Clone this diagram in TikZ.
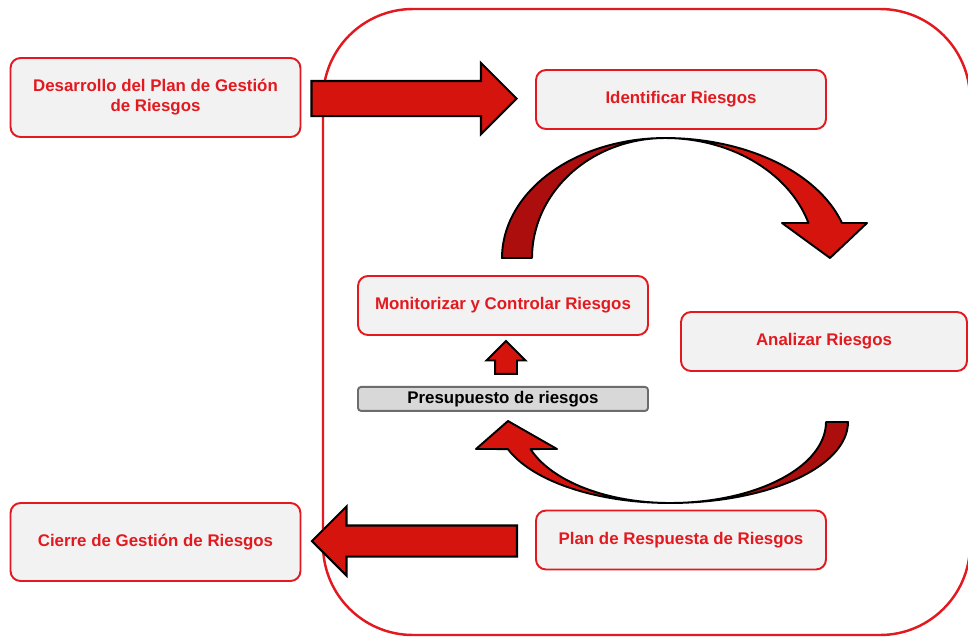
\documentclass[tikz,border=0pt]{standalone}
\usepackage{fontspec}
\setsansfont{Liberation Sans}
\usetikzlibrary{shapes.arrows, positioning, calc}
\definecolor{boxRed}{RGB}{226,26,32}
\definecolor{boxFill}{RGB}{242,242,242}
\definecolor{arrowRed}{RGB}{214,20,14}
\definecolor{arrowDark}{RGB}{172,14,14}
\definecolor{budgetFill}{RGB}{216,216,216}
\tikzset{
    font=\sffamily\bfseries\fontsize{9.6}{11.3}\selectfont,
    % Boxes
    riskbox/.style={rectangle, draw=boxRed, fill=boxFill, line width=1.1pt, rounded corners=0.2cm,
                    minimum width=5.8cm, minimum height=1.18cm, text=boxRed, align=center},
    budgetbox/.style={rectangle, draw=gray!85!black, fill=budgetFill, line width=1.1pt, rounded corners=0.06cm,
                      minimum width=5.8cm, minimum height=0.48cm, inner sep=0pt, text=black},
    frame/.style={draw=boxRed, line width=1.4pt, rounded corners=1.8cm},
    % Arrows
    bigarrow/.style={single arrow, draw=black, fill=arrowRed, line width=1.2pt, inner sep=0.33cm,
                     single arrow head extend=0.36cm, minimum height=4.1cm},
    smallarrow/.style={single arrow, draw=black, fill=arrowRed, line width=1.1pt, inner sep=0.2cm,
                       single arrow head extend=0.17cm, minimum height=0.56cm,
                       shape border rotate=90},
    lightpart/.style={fill=arrowRed, draw=black, line width=1.1pt, line join=round},
    darkpart/.style={fill=arrowDark, draw=black, line width=1.1pt, line join=round}
}

\begin{document}
\begin{tikzpicture}[x=0.02cm, y=-0.02cm]
\useasboundingbox (0,0) rectangle (968,637);

% process frame
\draw[frame] (323,9) rectangle (970,635);

\node[riskbox, minimum height=1.58cm] (desarrollo) at (155.5,97.5) {Desarrollo del Plan de Gestión\\de Riesgos};
\node[riskbox, minimum height=1.56cm] (cierre) at (155.5,542) {Cierre de Gestión de Riesgos};
\node[riskbox] (identificar) at (681,99.5) {Identificar Riesgos};
\node[riskbox] (plan) at (681,540) {Plan de Respuesta de Riesgos};
\node[riskbox] (monitorizar) at (503,305.5) {Monitorizar y Controlar Riesgos};
\node[riskbox, minimum width=5.72cm] (analizar) at (824,341.5) {Analizar Riesgos};
\node[budgetbox, below=1.0cm of monitorizar] (presupuesto) {Presupuesto de riesgos};

% straight block arrows
\node[bigarrow, xshift=-0.26cm] (entrada) at ($(desarrollo.east)!0.5!(identificar.west)$) {};
\node[bigarrow, inner sep=0.29cm, single arrow head extend=0.38cm, shape border rotate=180, xshift=0.08cm]
    (salida) at ($(cierre.east)!0.5!(plan.west)$) {};
\node[smallarrow, xshift=0.06cm, yshift=-0.04cm] (subida) at ($(monitorizar.south)!0.5!(presupuesto.north)$) {};

% curved arrow: identificar -> analizar
\filldraw[lightpart] plot[domain=90:16.96, samples=40] ({665+185*cos(\x)},{258-120*sin(\x)})
    -- (867,223) -- (830,258) -- (782,223)
    -- plot[domain=16.96:90, samples=40] ({665+150*cos(\x)},{258-120*sin(\x)}) -- cycle;
\filldraw[darkpart] plot[domain=180:90, samples=40] ({665+163*cos(\x)},{258-120*sin(\x)})
    -- plot[domain=90:180, samples=40] ({665+133*cos(\x)},{258-120*sin(\x)}) -- cycle;

% curved arrow: plan -> presupuesto
\filldraw[lightpart] plot[domain=90:160.5, samples=40] ({670+172*cos(\x)},{422+81*sin(\x)})
    -- (476,449) -- (508,421) -- (557,449)
    -- plot[domain=160.5:90, samples=40] ({670+148*cos(\x)},{422+81*sin(\x)}) -- cycle;
\filldraw[darkpart] plot[domain=0:90, samples=40] ({670+178*cos(\x)},{422+81*sin(\x)})
    -- plot[domain=90:0, samples=40] ({670+156*cos(\x)},{422+81*sin(\x)}) -- cycle;

\end{tikzpicture}
\end{document}
